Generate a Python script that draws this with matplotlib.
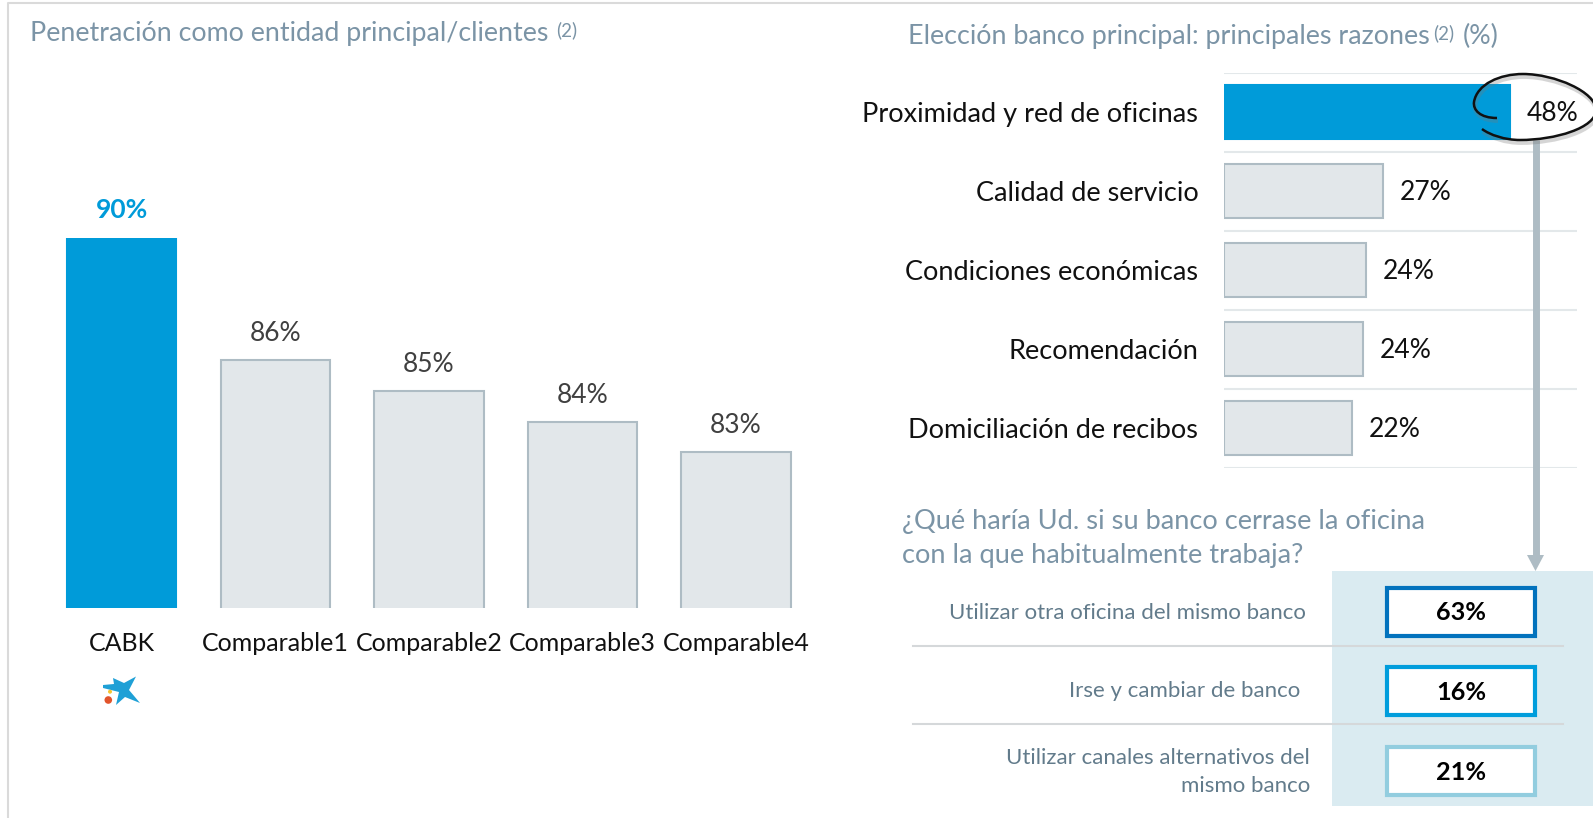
import matplotlib
matplotlib.use("Agg")
import matplotlib.pyplot as plt
from matplotlib.patches import PathPatch, Polygon, Circle, Rectangle
from matplotlib.path import Path

plt.rcParams['font.family'] = ['Lato', 'DejaVu Sans']

W, H = 1593, 818

# ---- data ----
penetration_names = ['CABK', 'Comparable1', 'Comparable2', 'Comparable3', 'Comparable4']
penetration_values = [90, 86, 85, 84, 83]
reason_names = ['Proximidad y red de oficinas', 'Calidad de servicio', 'Condiciones económicas',
                'Recomendación', 'Domiciliación de recibos']
reason_bar_lengths = [48, 26.8, 23.8, 23.3, 21.5]
reason_labels = ['48%', '27%', '24%', '24%', '22%']
closure_names = ['Utilizar otra oficina del mismo banco', 'Irse y cambiar de banco',
                 'Utilizar canales alternativos del\nmismo banco']
closure_values = [63, 16, 21]

BLUE = '#009BD9'
GREY_F = '#E2E7EA'
GREY_E = '#AEBCC4'
TITLE = '#7B94A6'
ROW = '#627B8B'


def axpx(fig, l, t, r, b, **kw):
    return fig.add_axes([l / W, 1 - b / H, (r - l) / W, (b - t) / H], **kw)


fig = plt.figure(figsize=(W / 100, H / 100), dpi=100, facecolor='white')

# background layer in pixel coordinates
bg = fig.add_axes([0, 0, 1, 1], zorder=0)
bg.set_xlim(0, W); bg.set_ylim(H, 0); bg.axis('off')
bg.plot([8, 8, W], [H, 3, 3], color='#DADADA', lw=1.5)
bg.add_patch(Rectangle((1332, 571), W - 1332, 235, fc='#DAEBF1', ec='none'))
for y in (645.5, 724):
    bg.plot([913, 1563], [y, y], color='#D5D8DA', lw=1.5)

# left bars
ax = axpx(fig, 44.9, 237.5, 812.9, 608, zorder=1)
ax.patch.set_alpha(0)
bars = ax.bar(range(len(penetration_values)), penetration_values, width=0.713,
              color=[BLUE] + [GREY_F] * 4, edgecolor=[BLUE] + [GREY_E] * 4, linewidth=1.5)
ax.set_xlim(-0.5, 4.5)
ax.set_ylim(77.93, 90)
for s in ax.spines.values():
    s.set_visible(False)
ax.set_yticks([])
ax.set_xticks(range(len(penetration_names)), penetration_names, fontsize=18, color='#111111')
ax.tick_params(axis='x', length=0, pad=17.5)
for i, v in enumerate(penetration_values):
    ax.annotate(f'{v}%', (i, v), xytext=(0, 20 if i == 0 else 19), textcoords='offset points',
                ha='center', va='center', annotation_clip=False, fontsize=19,
                fontweight='bold' if i == 0 else 'normal', color=BLUE if i == 0 else '#404040')

# right bars
rx = axpx(fig, 1224, 72.5, 1577, 467.5, zorder=1)
rx.patch.set_alpha(0)
rx.barh(range(5), reason_bar_lengths, height=0.68,
        color=[BLUE] + [GREY_F] * 4, edgecolor=[BLUE] + [GREY_E] * 4, linewidth=1.5, zorder=3)
rx.set_xlim(0, 353 / 5.95)
rx.set_ylim(4.5, -0.5)
rx.set_xticks([])
for s in rx.spines.values():
    s.set_visible(False)
rx.hlines([i - 0.5 for i in range(6)], 0, 353 / 5.95, color='#E3E8EA', lw=1.5, zorder=1)
rx.set_yticks(range(5), reason_names, fontsize=19.5, color='#111111')
rx.tick_params(axis='y', length=0, pad=18.5)
for i, (v, t) in enumerate(zip(reason_bar_lengths, reason_labels)):
    rx.annotate(t, (v, i), xytext=(12, -1), textcoords='offset points', ha='left', va='center',
                fontsize=19, color='#111111', zorder=6)

# top layer in pixel coordinates
top = fig.add_axes([0, 0, 1, 1], zorder=2)
top.patch.set_alpha(0)
top.set_xlim(0, W); top.set_ylim(H, 0); top.axis('off')

top.text(30, 33.5, 'Penetración como entidad principal/clientes', fontsize=19.3, color=TITLE, va='center')
top.text(556, 30, '(2)', fontsize=13.5, color=TITLE, va='center')
top.text(908, 36.5, 'Elección banco principal: principales razones', fontsize=19.4, color=TITLE, va='center')
top.text(1433, 33, '(2)', fontsize=13.5, color=TITLE, va='center')
top.text(1463, 36.5, '(%)', fontsize=19.4, color=TITLE, va='center')
top.text(902, 521, '¿Qué haría Ud. si su banco cerrase la oficina', fontsize=19.6, color=TITLE, va='center')
top.text(902, 555, 'con la que habitualmente trabaja?', fontsize=19.6, color=TITLE, va='center')

# grey arrow
top.plot([1535.5, 1535.5], [140, 556], color=GREY_E, lw=5, solid_capstyle='butt', zorder=2)
top.add_patch(Polygon([[1527, 555], [1544, 555], [1535.5, 571]], fc=GREY_E, ec='none', zorder=2))

# hand-drawn callout
verts = [(1497, 118), (1480, 118), (1473, 110), (1474, 102),
         (1477, 84), (1500, 74), (1523, 74),
         (1555, 74), (1596, 92), (1596, 110),
         (1596, 128), (1555, 140), (1520, 140),
         (1505, 140), (1490, 135), (1482, 129)]
codes = [Path.MOVETO] + [Path.CURVE4] * 15
curve = Path(verts, codes)
shadow = curve.transformed(matplotlib.transforms.Affine2D().translate(1, 2.5))
top.add_patch(PathPatch(shadow, fc='none', ec='#777777', lw=3.5, alpha=0.3, zorder=4))
top.add_patch(PathPatch(curve, fc='none', ec='#111111', lw=1.8, zorder=5))

# closure boxes
row_y = [613, 691, 772]
box_tops = [586, 665, 745]
box_cols = ['#0272BD', '#009DDC', '#92CDDF']
label_right = [1306, 1300, 1310]
for name, v, yc, bt, c, xr in zip(closure_names, closure_values, row_y, box_tops, box_cols, label_right):
    top.add_patch(Rectangle((1387, bt + 2), 148, 48, fc='white', ec=c, lw=3, zorder=3))
    top.text(1461, bt + 27, f'{v}%', fontsize=18.2, fontweight='bold', color='#000000',
             ha='center', va='center', zorder=4)
    top.text(xr, yc, name, fontsize=16.0, color=ROW, ha='right', va='center',
             multialignment='right', linespacing=1.45)

# logo
star = [(103, 685), (114, 684), (113, 678), (124, 683), (136, 676.5), (129, 690), (140, 703),
        (125, 697), (116, 705), (119, 692), (103, 688)]
top.add_patch(Polygon(star, fc='#1FA0D6', ec='none'))
top.add_patch(Circle((108.3, 700), 3.8, fc='#E2542B', ec='none'))
top.add_patch(Circle((110, 691.7), 2, fc='#F5C431', ec='none'))

fig.savefig('out.png', dpi=100)
